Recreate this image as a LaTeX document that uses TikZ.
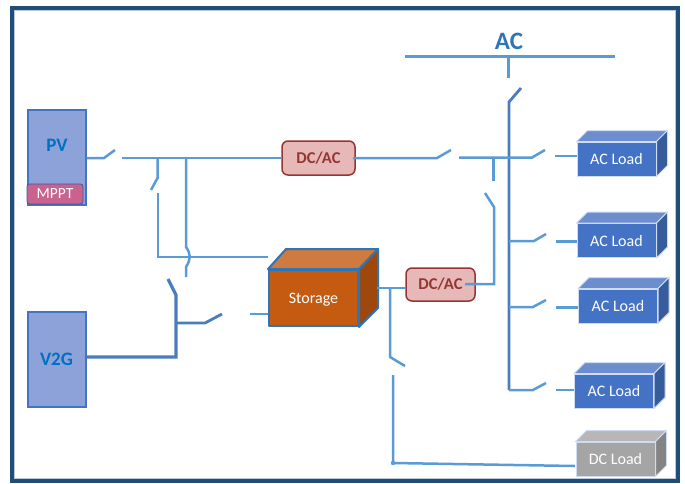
\documentclass[tikz,border=0pt]{standalone}
\usepackage{fontspec}
\setmainfont{Carlito}
\usetikzlibrary{calc}
\definecolor{frameblue}{HTML}{1F4E79}
\definecolor{wire}{HTML}{5B9BD5}
\definecolor{wiredark}{HTML}{4A7EBB}
\definecolor{srcfill}{HTML}{8EA2DA}
\definecolor{srcedge}{HTML}{4472C4}
\definecolor{srctext}{HTML}{0070C0}
\definecolor{conv}{HTML}{E6B8B7}
\definecolor{convedge}{HTML}{943634}
\definecolor{mppt}{HTML}{C9628F}
\definecolor{loadf}{HTML}{4472C4}
\definecolor{loadt}{HTML}{6C8ECF}
\definecolor{loads}{HTML}{365C9C}
\definecolor{dcf}{HTML}{A5A5A5}
\definecolor{dct}{HTML}{B7B7B7}
\definecolor{dcs}{HTML}{848484}
\definecolor{stfront}{HTML}{C55A11}
\definecolor{sttop}{HTML}{CF7A3E}
\definecolor{stside}{HTML}{9E480E}
\definecolor{stedge}{HTML}{2E75B6}
\tikzset{
  wireline/.style={draw=wire,line width=2.5pt,line join=miter},
  darkline/.style={draw=wiredark,line width=2.8pt,line join=miter},
  source/.style={draw=srcedge,line width=2pt,fill=srcfill,minimum width=58pt,minimum height=95pt,inner sep=0pt,text=srctext,font=\bfseries\fontsize{19pt}{21pt}\selectfont},
  converter/.style={draw=convedge,line width=1.5pt,fill=conv,rounded corners=6pt,inner sep=0pt,text=convedge,font=\bfseries\fontsize{16.5pt}{18pt}\selectfont},
  tagbox/.style={draw=srcedge!80!black,line width=.8pt,fill=mppt,rounded corners=2.5pt,inner sep=0pt,text=white,minimum width=56pt,minimum height=20pt,font=\fontsize{15.5pt}{17pt}\selectfont},
  loadbox/.style={draw=white!75!loadf,line width=1pt,fill=#1,inner sep=0pt,minimum width=79pt,minimum height=34pt,text=white,font=\fontsize{16pt}{18pt}\selectfont},
  edgeline/.style={draw=white!75!loadf,line width=1pt,line join=round},
  storeface/.style={draw=stedge,line width=2pt,line join=round},
}
\newcommand{\cubeparts}[3]{% node, top colour, side colour
  \path[edgeline,fill=#2] (#1.north west) -- ++(11,-11) -- ($(#1.north east)+(11,-11)$) -- (#1.north east) -- cycle;
  \path[edgeline,fill=#3] (#1.north east) -- ++(11,-11) -- ($(#1.south east)+(11,-11)$) -- (#1.south east) -- cycle;
}
\begin{document}
\begin{tikzpicture}[x=1pt,y=-1pt]
\useasboundingbox (0,0) rectangle (685,483);
% frame
\draw[frameblue,line width=4.2pt] (12.2,8.2) rectangle (677.8,481);
\draw[frameblue!30,line width=.9pt] (14.8,10.8) rectangle (675.2,478.4);

% sources
\node[source] (pv) at (56.5,157) {};
\node[text=srctext,font=\bfseries\fontsize{19pt}{21pt}\selectfont] (pvt) at (57,145) {PV};
\node[tagbox] (mp) at (55,194) {MPPT};
\node[source] (v2g) at (56.5,359.5) {V2G};

% converters
\node[converter,minimum width=73pt,minimum height=34pt] (c1) at (318.5,158) {DC/AC};
\node[converter,minimum width=69pt,minimum height=33pt] (c2) at (440.5,284.5) {DC/AC};

% storage
\node[storeface,fill=stfront,inner sep=0pt,minimum width=89pt,minimum height=56pt,text depth=0pt,text=white,font=\fontsize{16pt}{18pt}\selectfont] (st) at (313.5,298) {Storage};
\path[storeface,fill=sttop] (st.north west) -- ++(18,-20) -- ($(st.north east)+(19,-20)$) -- (st.north east) -- cycle;
\path[storeface,fill=stside] (st.north east) -- ++(19,-20) -- ($(st.south east)+(19,-19)$) -- (st.south east) -- cycle;

% loads
\node[loadbox=loadf] (l1) at (616.5,159) {AC Load};
\cubeparts{l1}{loadt}{loads}
\node[loadbox=loadf] (l2) at (616.5,240.5) {AC Load};
\cubeparts{l2}{loadt}{loads}
\node[loadbox=loadf] (l3) at (618,306) {AC Load};
\cubeparts{l3}{loadt}{loads}
\node[loadbox=loadf] (l4) at (614,391) {AC Load};
\cubeparts{l4}{loadt}{loads}
\node[loadbox=dcf] (l5) at (615.5,459) {DC Load};
\cubeparts{l5}{dct}{dcs}

% AC bus
\coordinate (barL) at (405,56);
\coordinate (barR) at (615,56);
\coordinate (barT) at (508,56);
\draw[wireline,line width=3pt] (barL) -- (barR);
\node[text=stedge,font=\bfseries\fontsize{25pt}{27pt}\selectfont] (ac) at (509,41) {AC};

% coordinates
\coordinate (a1) at (508,78);
\coordinate (a2) at (521,88);
\coordinate (a3) at (509,102);
\coordinate (a4) at (509,390);
\draw[wireline,line width=3pt] (barT) -- (a1);
\draw[darkline] (a2) -- (a3) -- (a4);

% PV side
\coordinate (p1) at (104,158);
\coordinate (p2) at (115,150);
\coordinate (b1) at (122,158);
\draw[wireline] (pv.east |- p1) -- (p1) -- (p2);
\draw[wireline] (b1) -- (c1.west |- b1);
\coordinate (j1) at (157.5,158);
\coordinate (j2) at (157.5,178);
\coordinate (j3) at (151,190);
\coordinate (j4) at (158,193);
\coordinate (j5) at (158,257);
\draw[wireline] (j1) -- (j2) -- (j3);
\draw[wireline] (j4) -- (j5) -- (st.north west |- j5);
\coordinate (k1) at (186,158);
\coordinate (k2) at (186,247);
\coordinate (k3) at (186,267);
\coordinate (k4) at (186,277);
\draw[wireline] (k1) -- (k2) .. controls (191,254) and (191,259) .. (k3) -- (k4);

% V2G side
\coordinate (v1) at (176,357);
\coordinate (v2) at (176,295);
\coordinate (v3) at (168,279);
\coordinate (v4) at (176,323);
\coordinate (v5) at (205,323);
\coordinate (v6) at (222,314);
\coordinate (v7) at (250,314);
\draw[darkline,line width=3.2pt] (v2g.east |- v1) -- (v1) -- (v2) -- (v3);
\draw[darkline] (v4) -- (v5) -- (v6);
\draw[wireline] (v7) -- (st.west |- v7);

% converter 1 to AC side
\coordinate (d1) at (353,158);
\coordinate (d2) at (437,158);
\coordinate (d3) at (451,150);
\coordinate (d4) at (459,157.5);
\coordinate (d5) at (532,157.5);
\coordinate (d6) at (545,150);
\coordinate (d7) at (555,156);
\draw[wireline] (d1) -- (d2) -- (d3);
\draw[wireline] (d4) -- (d5) -- (d6);
\draw[wireline] (d7) -- (l1.west |- d7);

% link to converter 2
\coordinate (e1) at (493.5,157.5);
\coordinate (e2) at (493.5,181);
\coordinate (e3) at (485,193);
\coordinate (e4) at (494,207);
\coordinate (e5) at (494,284);
\coordinate (e6) at (465,284);
\draw[wireline] (e1) -- (e2);
\draw[wireline] (e3) -- (e4) -- (e5) -- (e6);

% AC load switches
\coordinate (f1) at (509,241);
\coordinate (f2) at (534,241);
\coordinate (f3) at (546,234);
\coordinate (f4) at (556,241.5);
\draw[wireline] (f1) -- (f2) -- (f3);
\draw[wireline] (f4) -- (l2.west |- f4);
\coordinate (g1) at (509,307);
\coordinate (g2) at (533,307);
\coordinate (g3) at (546,300);
\coordinate (g4) at (556,307.5);
\draw[wireline] (g1) -- (g2) -- (g3);
\draw[wireline] (g4) -- (l3.west |- g4);
\coordinate (h1) at (509,390);
\coordinate (h2) at (533,390);
\coordinate (h3) at (546,383);
\coordinate (h4) at (556,390);
\draw[wireline] (h1) -- (h2) -- (h3);
\draw[wireline] (h4) -- (l4.west |- h4);

% storage output
\coordinate (s1) at (377,288);
\coordinate (s2) at (390,288);
\coordinate (s3) at (390,357);
\coordinate (s4) at (405,366);
\coordinate (s5) at (393,375);
\coordinate (s6) at (393,463);
\coordinate (s7) at (575,466);
\draw[wireline] (s1) -- (c2.west |- s1);
\draw[wireline] (s2) -- (s3) -- (s4);
\draw[wireline] (s5) -- (s6) -- (s7);
\fill[wire] (s6) circle (2.2pt);
\end{tikzpicture}
\end{document}
